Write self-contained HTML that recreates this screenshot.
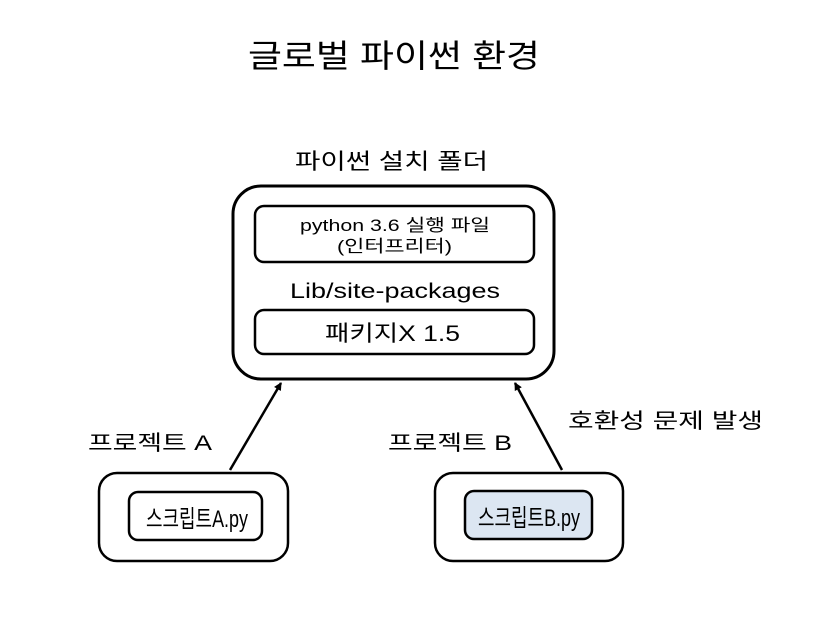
<!DOCTYPE html>
<html><head><meta charset="utf-8"><style>
html,body{margin:0;padding:0;background:#fff;}
svg text{font-family:"Liberation Sans","Noto Sans CJK KR","NanumGothic",sans-serif;fill:#000;}
</style></head><body>
<svg width="839" height="616" viewBox="0 0 839 616" xmlns="http://www.w3.org/2000/svg">
<defs><marker id="ah" markerWidth="8" markerHeight="8" refX="7" refY="4" orient="auto" markerUnits="userSpaceOnUse"><path d="M0,0 L8,4 L0,8 z" fill="#000"/></marker></defs>
<text x="248" y="67" font-size="32" textLength="292" lengthAdjust="spacingAndGlyphs">글로벌 파이썬 환경</text>
<text x="295" y="169" font-size="22" textLength="193" lengthAdjust="spacingAndGlyphs">파이썬 설치 폴더</text>
<rect x="233" y="186" width="321" height="193" rx="28" fill="#fff" stroke="#000" stroke-width="3"/>
<rect x="255" y="206" width="279" height="56" rx="9" fill="#fff" stroke="#000" stroke-width="2.5"/>
<text x="300" y="231" font-size="17" textLength="190" lengthAdjust="spacingAndGlyphs">python 3.6 실행 파일</text>
<text x="337" y="252" font-size="17" textLength="115" lengthAdjust="spacingAndGlyphs">(인터프리터)</text>
<text x="290" y="298" font-size="21" textLength="210" lengthAdjust="spacingAndGlyphs">Lib/site-packages</text>
<rect x="255" y="310" width="279" height="44" rx="9" fill="#fff" stroke="#000" stroke-width="2.5"/>
<text x="325" y="341" font-size="22" textLength="135" lengthAdjust="spacingAndGlyphs">패키지X 1.5</text>
<line x1="230" y1="470" x2="281" y2="383" stroke="#000" stroke-width="2.5" marker-end="url(#ah)"/>
<line x1="562" y1="470" x2="515" y2="383" stroke="#000" stroke-width="2.5" marker-end="url(#ah)"/>
<text x="88" y="450" font-size="21" textLength="124" lengthAdjust="spacingAndGlyphs">프로젝트 A</text>
<text x="388" y="450" font-size="21" textLength="124" lengthAdjust="spacingAndGlyphs">프로젝트 B</text>
<text x="568" y="428" font-size="21" textLength="195" lengthAdjust="spacingAndGlyphs">호환성 문제 발생</text>
<rect x="99" y="473" width="189" height="88" rx="18" fill="#fff" stroke="#000" stroke-width="2.5"/>
<rect x="129" y="492" width="133" height="48" rx="9" fill="#fff" stroke="#000" stroke-width="2.5"/>
<text x="146" y="527" font-size="24" textLength="102" lengthAdjust="spacingAndGlyphs">스크립트A.py</text>
<rect x="435" y="473" width="188" height="88" rx="18" fill="#fff" stroke="#000" stroke-width="2.5"/>
<rect x="465" y="491" width="127" height="48" rx="9" fill="#dce6f2" stroke="#000" stroke-width="2.5"/>
<text x="478" y="526" font-size="24" textLength="102" lengthAdjust="spacingAndGlyphs">스크립트B.py</text>
</svg>
</body></html>
